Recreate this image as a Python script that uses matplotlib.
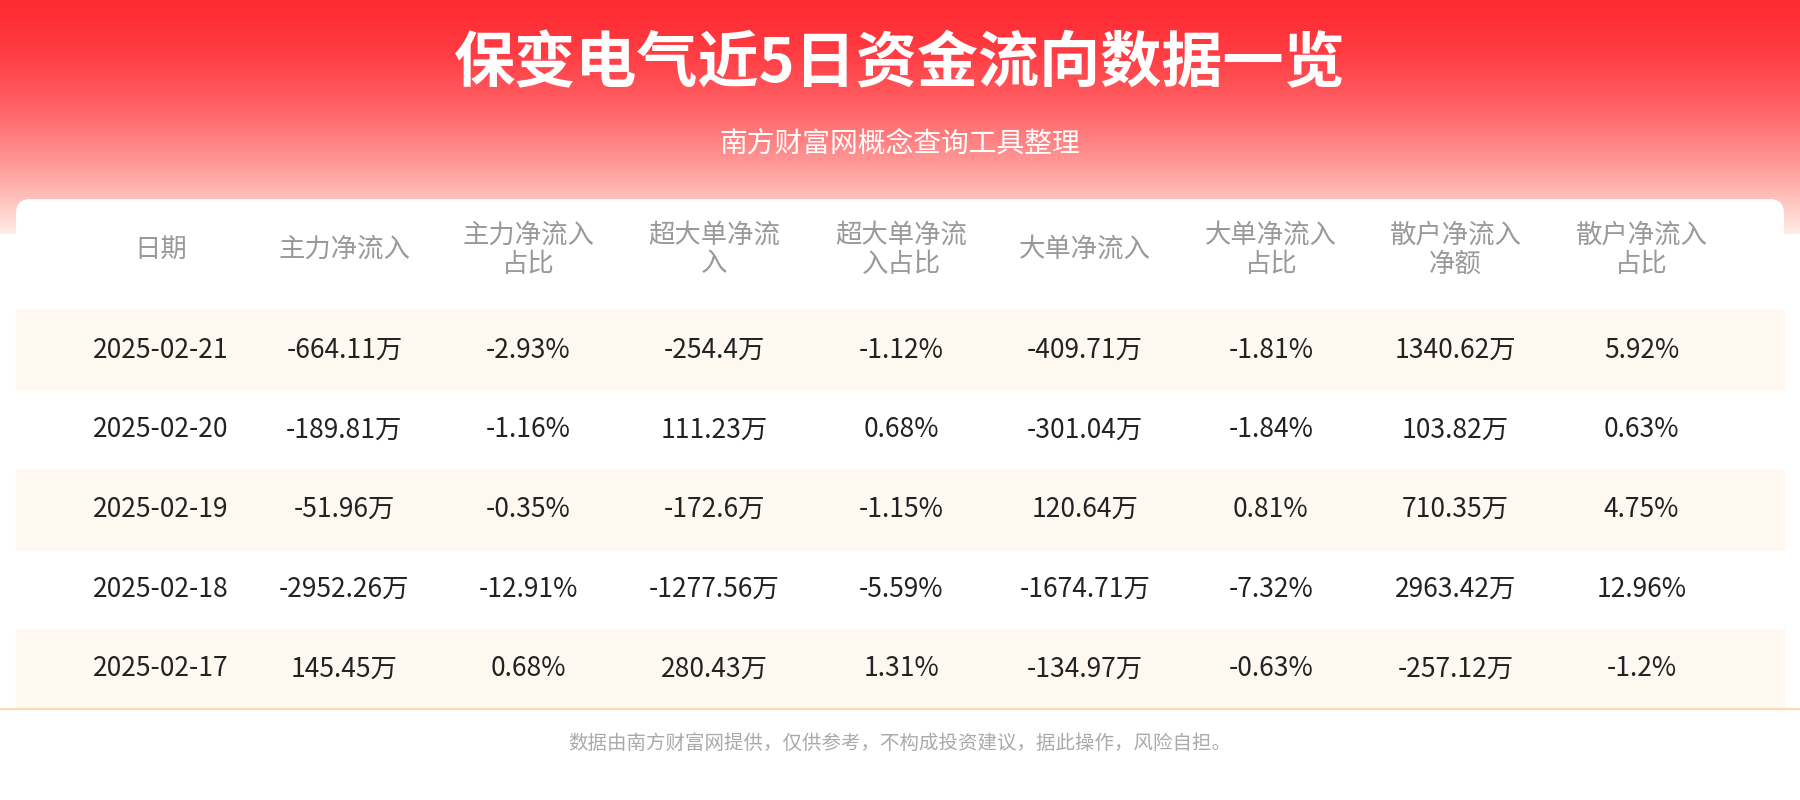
import matplotlib
matplotlib.use("Agg")
import matplotlib.pyplot as plt
import numpy as np
from matplotlib.patches import FancyBboxPatch, Rectangle

plt.rcParams['font.family'] = ['Noto Sans CJK SC', 'DejaVu Sans']

title = "保变电气近5日资金流向数据一览"
subtitle = "南方财富网概念查询工具整理"
headers = ["日期", "主力净流入", "主力净流入\n占比", "超大单净流\n入", "超大单净流\n入占比",
           "大单净流入", "大单净流入\n占比", "散户净流入\n净额", "散户净流入\n占比"]
dates = ["2025-02-21", "2025-02-20", "2025-02-19", "2025-02-18", "2025-02-17"]
main_in = ["-664.11万", "-189.81万", "-51.96万", "-2952.26万", "145.45万"]
main_pct = ["-2.93%", "-1.16%", "-0.35%", "-12.91%", "0.68%"]
xl_in = ["-254.4万", "111.23万", "-172.6万", "-1277.56万", "280.43万"]
xl_pct = ["-1.12%", "0.68%", "-1.15%", "-5.59%", "1.31%"]
l_in = ["-409.71万", "-301.04万", "120.64万", "-1674.71万", "-134.97万"]
l_pct = ["-1.81%", "-1.84%", "0.81%", "-7.32%", "-0.63%"]
retail_in = ["1340.62万", "103.82万", "710.35万", "2963.42万", "-257.12万"]
retail_pct = ["5.92%", "0.63%", "4.75%", "12.96%", "-1.2%"]
footer = "数据由南方财富网提供，仅供参考，不构成投资建议，据此操作，风险自担。"

W, H = 1568, 683
fig = plt.figure(figsize=(18, 8), dpi=100)
ax = fig.add_axes([0, 0, 1, 1])
ax.set_xlim(0, W); ax.set_ylim(H, 0); ax.axis('off')

grad = np.linspace(0, 1, 256)[:, None]
top = np.array([1.0, 0.17, 0.20]); bot = np.array([1.0, 0.93, 0.90])
img = top + (bot - top) * (grad ** 1.6)[:, :, None] * np.ones((1, 2, 1))
ax.imshow(img, extent=(0, W, 200, 0), aspect='auto', zorder=0)
ax.add_patch(Rectangle((0, 200), W, H - 200, color='white', zorder=0))

ax.text(W / 2, 55, title, ha='center', va='center', fontsize=44, fontweight='bold', color='white', zorder=3)
ax.text(W / 2, 123, subtitle, ha='center', va='center', fontsize=20, color='white', zorder=3)

card = FancyBboxPatch((14, 170), W - 28, 440, boxstyle="round,pad=0,rounding_size=12",
                      fc='white', ec='none', zorder=1)
ax.add_patch(card)

xs = [140, 300, 460, 622, 785, 945, 1107, 1268, 1430]
for x, h in zip(xs, headers):
    ax.text(x, 213, h, ha='center', va='center', fontsize=19, color='#999999', linespacing=1.1, zorder=3)

cols = [dates, main_in, main_pct, xl_in, xl_pct, l_in, l_pct, retail_in, retail_pct]
row_h = 68
y0 = 265
for i in range(len(dates)):
    yt = y0 + i * row_h
    if i % 2 == 0:
        ax.add_patch(Rectangle((14, yt), W - 28, row_h, color='#fff8f0', zorder=1.5))
    for x, c in zip(xs, cols):
        ax.text(x, yt + row_h / 2, c[i], ha='center', va='center', fontsize=19, color='#222222', zorder=3)

ax.plot([0, W], [605, 605], color='#ffd9b0', lw=1.5, zorder=3)
ax.text(W / 2, 635, footer, ha='center', va='center', fontsize=14, color='#aaaaaa', zorder=3)

fig.savefig("out.png", dpi=100)
